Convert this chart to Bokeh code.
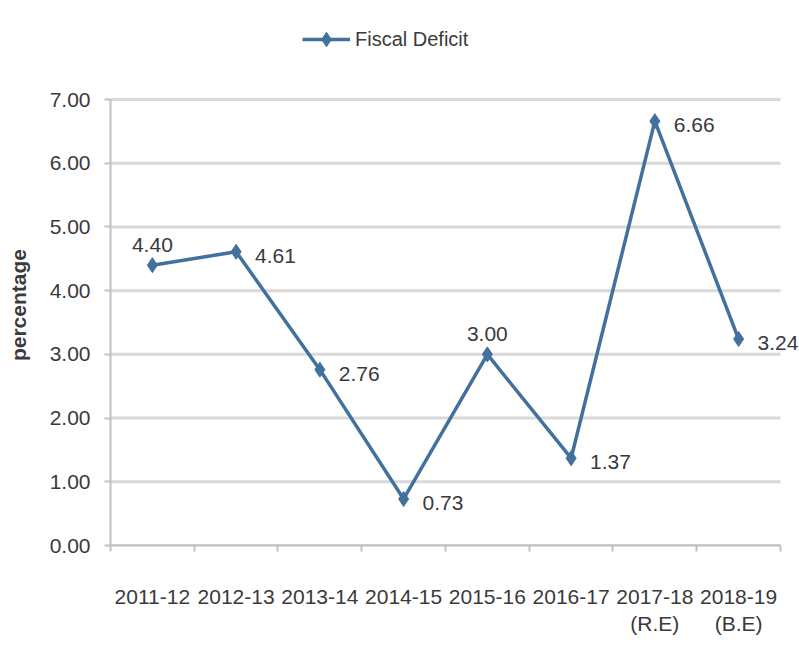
from bokeh.plotting import figure
from bokeh.models import (ColumnDataSource, FixedTicker, Legend, LegendItem, Range1d, LabelSet)
from bokeh.core.properties import value
from bokeh.embed import file_html
from bokeh.resources import INLINE

years = ["2011-12", "2012-13", "2013-14", "2014-15", "2015-16", "2016-17",
         "2017-18\n(R.E)", "2018-19\n(B.E)"]
deficit = [4.40, 4.61, 2.76, 0.73, 3.00, 1.37, 6.66, 3.24]
labels = ["4.40", "4.61", "2.76", "0.73", "3.00", "1.37", "6.66", "3.24"]
above = [True, False, False, False, True, False, False, False]
y_ticks = [0, 1, 2, 3, 4, 5, 6, 7]

FONT = "Liberation Sans"
TXT = "#3a3a3a"
LINE = "#41719C"
GRID = "#d9d9d9"
AXIS = "#c0c0c0"

xs = list(range(len(years)))
x_lo, x_hi = -0.5, len(years) - 0.5
y_lo, y_hi = 0, 7

# frame spans the whole area right of / above the axes so labels and legend are not clipped
p = figure(width=799, height=640, output_backend="svg", toolbar_location=None,
           x_range=Range1d(x_lo, x_hi + 0.227), y_range=Range1d(y_lo, y_hi + 1.554),
           min_border_left=110, min_border_right=0, min_border_top=0,
           min_border_bottom=95)
p.outline_line_color = None
p.background_fill_color = "white"
p.xgrid.grid_line_color = None
p.ygrid.grid_line_color = None

# horizontal gridlines limited to the category span
p.segment(x0=[x_lo] * len(y_ticks), x1=[x_hi] * len(y_ticks), y0=y_ticks, y1=y_ticks,
          line_color=GRID, line_width=3)

src = ColumnDataSource(dict(x=xs, y=deficit))
ln = p.line("x", "y", source=src, line_color=LINE, line_width=3.5)
mk = p.scatter("x", "y", source=src, marker="diamond", size=15,
               fill_color=LINE, line_color=LINE)

# data labels
right_src = ColumnDataSource(dict(
    x=[x for x, a in zip(xs, above) if not a],
    y=[y for y, a in zip(deficit, above) if not a],
    t=[l for l, a in zip(labels, above) if not a]))
above_src = ColumnDataSource(dict(
    x=[x for x, a in zip(xs, above) if a],
    y=[y for y, a in zip(deficit, above) if a],
    t=[l for l, a in zip(labels, above) if a]))
p.add_layout(LabelSet(x="x", y="y", text="t", source=right_src, x_offset=19, y_offset=-4,
                      text_align="left", text_baseline="middle", text_font=value(FONT),
                      text_font_size=value("21px"), text_color=TXT))
p.add_layout(LabelSet(x="x", y="y", text="t", source=above_src, x_offset=0, y_offset=13,
                      text_align="center", text_baseline="bottom", text_font=value(FONT),
                      text_font_size=value("21px"), text_color=TXT))

# axes
p.xaxis.bounds = (x_lo, x_hi)
p.xaxis.ticker = FixedTicker(ticks=xs, minor_ticks=[i - 0.5 for i in range(len(years) + 1)])
p.xaxis.major_label_overrides = {i: years[i] for i in xs}
p.xaxis.major_tick_line_color = None
p.xaxis.major_tick_out = 0
p.xaxis.major_tick_in = 0
p.xaxis.minor_tick_line_color = AXIS
p.xaxis.minor_tick_line_width = 2
p.xaxis.minor_tick_out = 6
p.xaxis.minor_tick_in = 0
p.xaxis.axis_line_color = AXIS
p.xaxis.axis_line_width = 2
p.xaxis.major_label_text_font = FONT
p.xaxis.major_label_text_font_size = "21px"
p.xaxis.major_label_text_color = TXT
p.xaxis.major_label_standoff = 33

p.yaxis.bounds = (y_lo, y_hi)
p.yaxis.ticker = FixedTicker(ticks=y_ticks)
p.yaxis.major_label_overrides = {t: f"{t:.2f}" for t in y_ticks}
p.yaxis.minor_tick_line_color = None
p.yaxis.major_tick_line_color = AXIS
p.yaxis.major_tick_line_width = 2
p.yaxis.major_tick_out = 6
p.yaxis.major_tick_in = 0
p.yaxis.axis_line_color = AXIS
p.yaxis.axis_line_width = 2
p.yaxis.major_label_text_font = FONT
p.yaxis.major_label_text_font_size = "21px"
p.yaxis.major_label_text_color = TXT
p.yaxis.major_label_standoff = 14
# trailing no-break spaces shift the centred, rotated label down to sit beside the 0-7 span
p.yaxis.axis_label = "percentage" + "\u00a0" * 11
p.yaxis.axis_label_text_font = FONT
p.yaxis.axis_label_text_font_size = "21px"
p.yaxis.axis_label_text_font_style = "bold"
p.yaxis.axis_label_text_color = TXT
p.yaxis.axis_label_standoff = 17

legend = Legend(items=[LegendItem(label="Fiscal Deficit", renderers=[ln, mk])],
                location=(192, 488), orientation="horizontal",
                label_text_font=FONT, label_text_font_size="20px",
                label_text_color=TXT, border_line_color=None,
                background_fill_alpha=0, glyph_width=48, glyph_height=36,
                label_standoff=5, padding=4, margin=0)
p.add_layout(legend, "center")

open("out.html", "w").write(file_html(p, INLINE))
